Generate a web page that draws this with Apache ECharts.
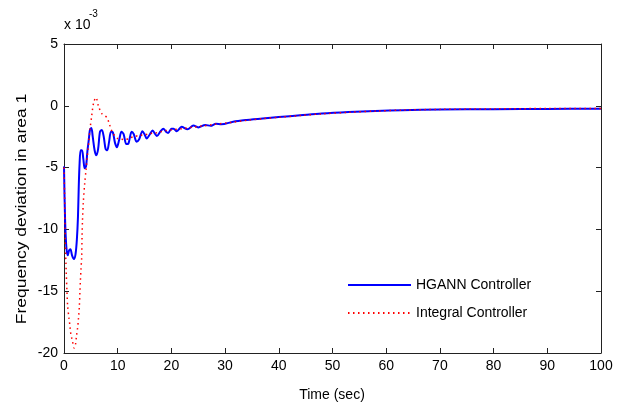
<!DOCTYPE html>
<html>
<head>
<meta charset="utf-8">
<script src="https://cdn.jsdelivr.net/npm/echarts@6/dist/echarts.min.js"></script>
<style>
html,body{margin:0;padding:0;background:#fff;}
#chart{width:621px;height:407px;}
</style>
</head>
<body>
<div id="chart"></div>
<script>
// values in units of 1e-3
var xTicks = [0,10,20,30,40,50,60,70,80,90,100];
var yTicks = [-20,-15,-10,-5,0,5];
var seriesNames = ['HGANN Controller','Integral Controller'];
var xLabel = 'Time (sec)';
var yLabel = 'Frequency deviation in area 1';

var hgann = [
[0,-4.9],[0.2,-9.2],[0.45,-11.5],[0.7,-12.1],[0.95,-11.7],[1.2,-11.6],[1.5,-12.1],[1.85,-12.4],
[2.15,-12.0],[2.4,-10.8],[2.6,-9.0],[2.75,-6.5],[2.9,-4.7],[3.1,-3.6],[3.35,-3.6],[3.6,-4.3],
[3.85,-5.05],[4.1,-4.9],[4.35,-3.7],[4.6,-2.8],[4.85,-1.9],[5.1,-1.8],[5.35,-2.5],[5.7,-3.6],
[6.0,-4.0],[6.35,-3.5],[6.7,-2.1],[7.05,-1.95],[7.4,-2.5],[7.75,-3.5],[8.05,-3.6],[8.4,-2.9],
[8.75,-2.1],[9.1,-2.15],[9.5,-3.0],[9.85,-3.35],[10.25,-2.8],[10.7,-2.1],[11.1,-2.3],[11.6,-3.1],
[12.0,-3.05],[12.6,-2.1],[13.0,-2.3],[13.5,-2.9],[14.0,-2.7],[14.6,-2.05],[15.0,-2.3],[15.4,-2.65],
[16.0,-2.3],[16.5,-2.0],[17.0,-2.3],[17.3,-2.45],[18.0,-2.05],[18.5,-1.85],[19.0,-2.1],[19.4,-2.2],
[20.0,-1.85],[20.4,-1.85],[21.0,-2.05],[21.9,-1.7],[23.0,-1.9],[24.1,-1.6],[25.0,-1.75],[26.3,-1.55],
[27.3,-1.62],[28.3,-1.45],[29.3,-1.5],[31.5,-1.29],[34,-1.15],[37,-1.02],[40,-0.91],[44,-0.77],[48,-0.63],
[53,-0.51],[58,-0.42],[63,-0.35],[70,-0.3],[80,-0.27],[90,-0.25],[100,-0.24]
];

var integral = [
[0,-5],[0.1,-7],[0.25,-11],[0.42,-13.5],[0.55,-15],[0.68,-16.2],[0.93,-17.2],[1.1,-17.8],
[1.25,-18.4],[1.5,-18.9],[1.7,-19.3],[1.9,-19.6],[2.14,-19.3],[2.33,-18.6],[2.5,-18.1],[2.7,-17.2],
[2.85,-16.3],[2.97,-15.0],[3.05,-14.2],[3.16,-13.2],[3.28,-12.4],[3.36,-10.6],[3.45,-9.2],[3.6,-7.8],
[3.85,-6.3],[4.1,-5.2],[4.34,-4.1],[4.6,-3.0],[4.84,-1.9],[5.15,-0.85],[5.34,-0.2],[5.6,0.38],
[5.96,0.67],[6.4,0.0],[7.0,-0.62],[7.6,-0.8],[8.07,-1.0],[8.45,-1.48],[9.0,-2.15],[9.5,-2.45],
[10,-2.65],[10.6,-2.7],[11.4,-2.75],[12.2,-2.6],[13,-2.5],[14,-2.4],[15,-2.35],[16,-2.25],
[17,-2.2],[18,-2.1],[19,-2.0],[20,-1.95],[22,-1.85],[24,-1.73],[26,-1.62],[28,-1.5],
[31,-1.35],[34,-1.18],[37,-1.04],[40,-0.93],[44,-0.79],[48,-0.65],[53,-0.53],[58,-0.43],
[63,-0.35],[70,-0.29],[80,-0.25],[90,-0.22],[100,-0.21]
];

var FONT = 'Liberation Sans, Arial, sans-serif';
var chart = echarts.init(document.getElementById('chart'), null, {renderer:'canvas'});

function xAx(pos, showLabel){
  return {
    type:'value', position:pos, min:xTicks[0], max:xTicks[xTicks.length-1],
    interval:xTicks[1]-xTicks[0],
    axisLine:{show:true, onZero:false, lineStyle:{color:'#222', width:1}},
    axisTick:{show:true, inside:true, length:5, lineStyle:{color:'#222'}},
    axisLabel:{show:showLabel, color:'#000', fontSize:14, fontFamily:FONT, margin:6},
    splitLine:{show:false}
  };
}
function yAx(pos, showLabel){
  return {
    type:'value', position:pos, min:yTicks[0], max:yTicks[yTicks.length-1],
    interval:yTicks[1]-yTicks[0],
    axisLine:{show:true, onZero:false, lineStyle:{color:'#222', width:1}},
    axisTick:{show:true, inside:true, length:5, lineStyle:{color:'#222'}},
    axisLabel:{show:showLabel, color:'#000', fontSize:14, fontFamily:FONT, margin:6},
    splitLine:{show:false}
  };
}

chart.setOption({
  animation:false,
  backgroundColor:'#fff',
  grid:{left:64, right:20, top:44, bottom:54, containLabel:false},
  xAxis:[xAx('bottom', true), xAx('top', false)],
  yAxis:[yAx('left', true), yAx('right', false)],
  legend:{
    data:seriesNames, orient:'vertical', left:347, top:278,
    itemWidth:63, itemHeight:14, itemGap:14, padding:0,
    itemStyle:{opacity:0, borderWidth:0},
    textStyle:{color:'#000', fontSize:14, fontFamily:FONT}
  },
  series:[
    {name:seriesNames[0], type:'line', data:hgann, symbol:'none', smooth:0.3,
     xAxisIndex:0, yAxisIndex:0,
     lineStyle:{color:'#0000ff', width:2}, itemStyle:{color:'#0000ff'}, z:3},
    {name:seriesNames[1], type:'line', data:integral, symbol:'none', smooth:0.3,
     xAxisIndex:0, yAxisIndex:0,
     lineStyle:{color:'#ff0000', width:1.5, type:[1.5,3.5]}, itemStyle:{color:'#ff0000'}, z:4}
  ],
  graphic:[
    {type:'text', left:64, top:18, style:{text:'x 10', fontSize:14, fontFamily:FONT, fill:'#000'}},
    {type:'text', left:89, top:9, style:{text:'-3', fontSize:10, fontFamily:FONT, fill:'#000'}},
    {type:'text', x:22, y:209, rotation:Math.PI/2, scaleX:1.25,
     style:{text:yLabel, fontSize:14, fontFamily:FONT, fill:'#000', align:'center', verticalAlign:'middle'}},
    {type:'text', x:332, y:395, style:{text:xLabel, fontSize:14, fontFamily:FONT, fill:'#000', align:'center', verticalAlign:'middle'}}
  ]
});
</script>
</body>
</html>
